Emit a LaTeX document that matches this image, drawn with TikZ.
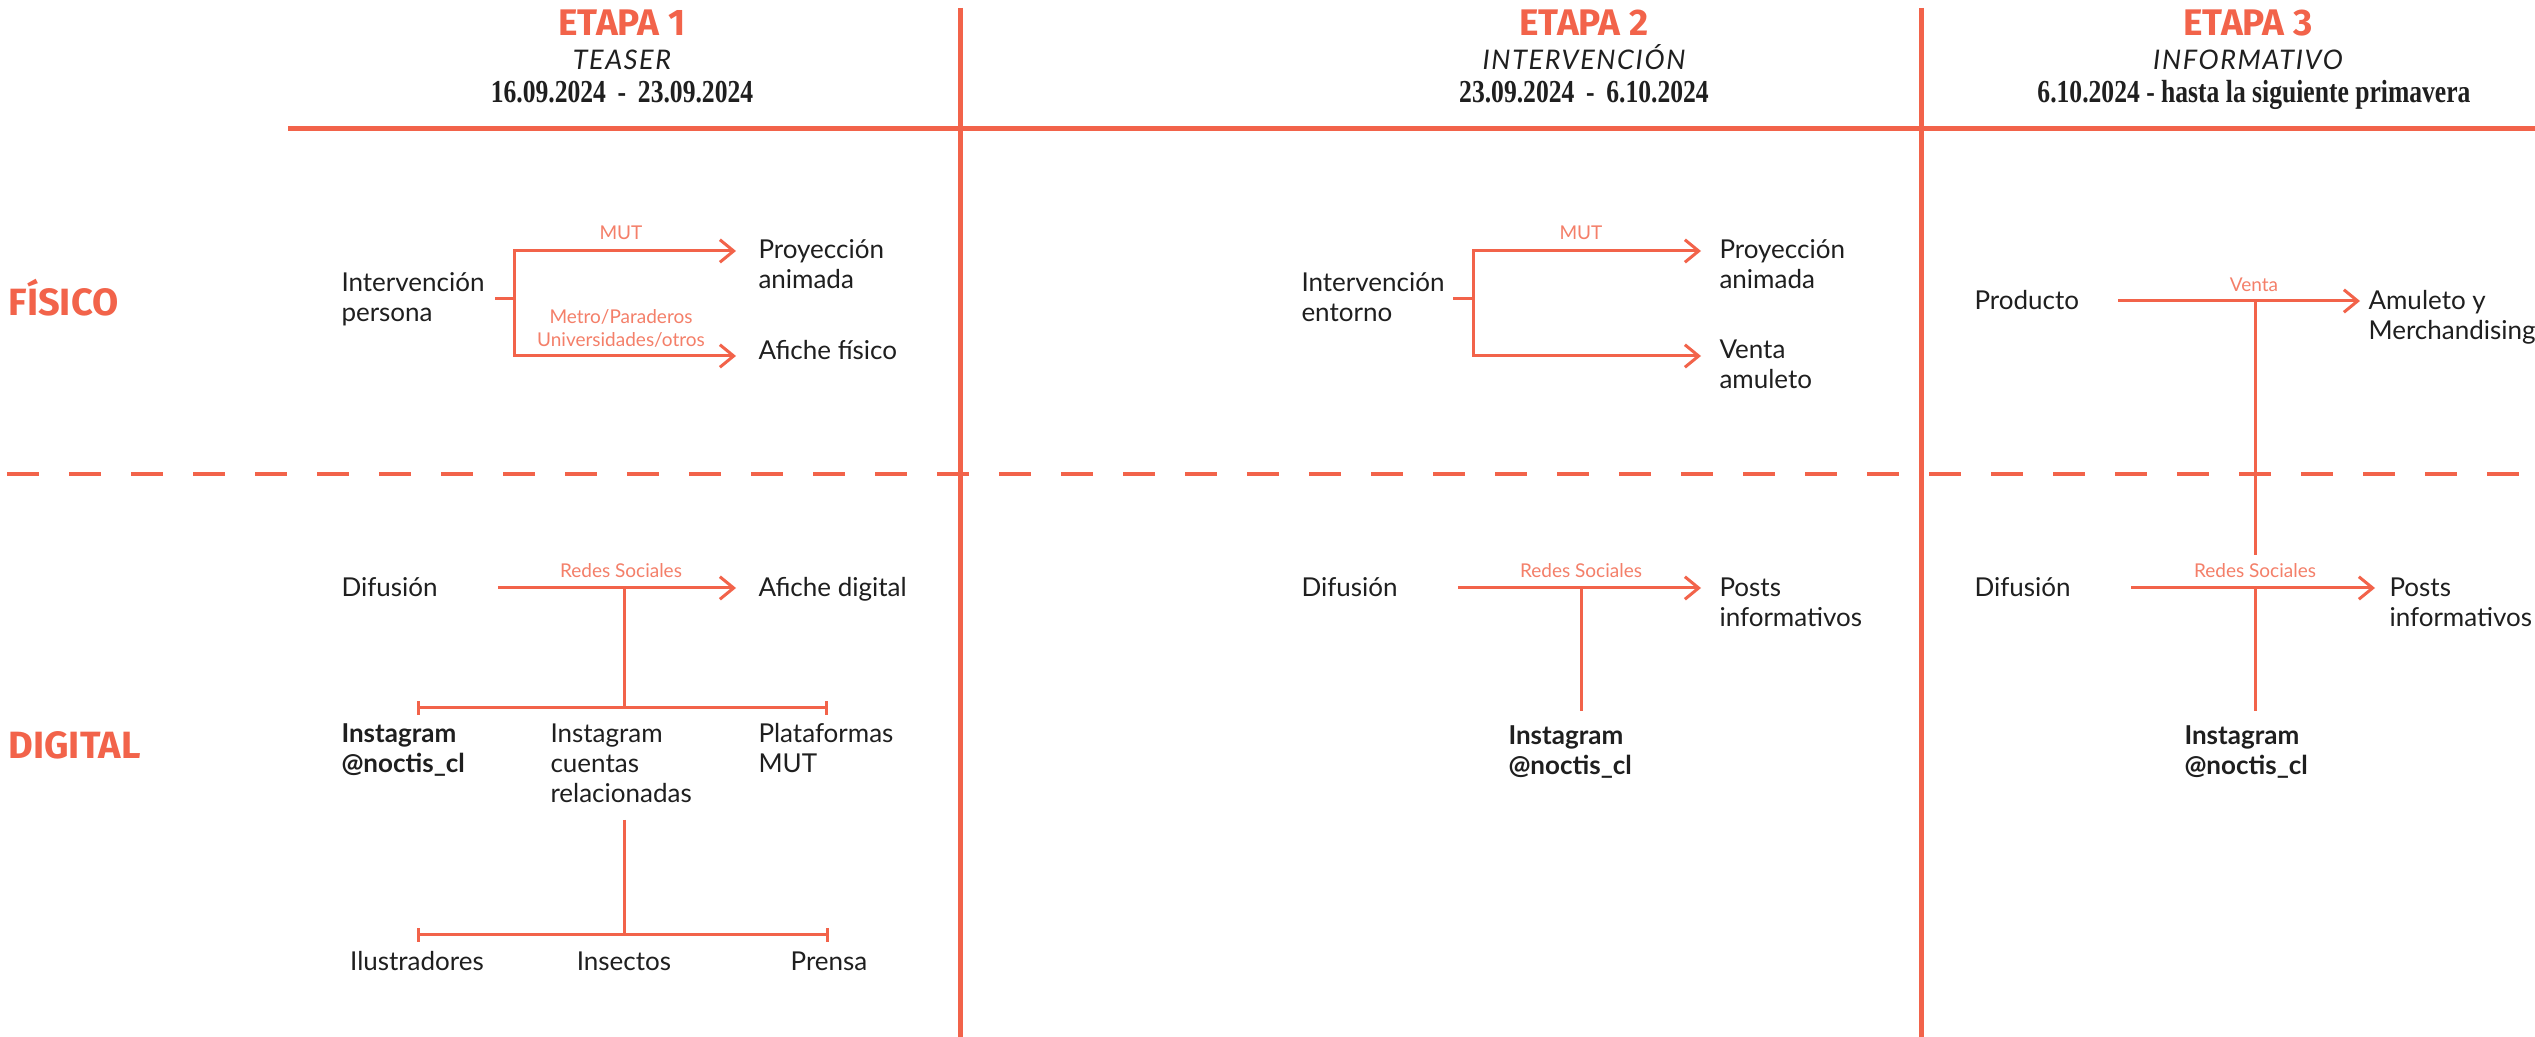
\documentclass[tikz,border=0pt]{standalone}
\usepackage{fontspec}
\setmainfont{Lato}
\newfontfamily\headfont{Fira Sans}
\newfontfamily\subfont[LetterSpace=6]{Lato}
\newfontfamily\datefont[FakeStretch=0.8]{Liberation Serif}
\usetikzlibrary{arrows.meta}
\definecolor{acc}{HTML}{F2634A}
\definecolor{lbl}{HTML}{F47F69}
\definecolor{ink}{HTML}{1F1F1F}
\begin{document}
\begin{tikzpicture}[x=0.4pt,y=-0.4pt,
  gridline/.style={draw=acc,line width=2pt},
  dashline/.style={draw=acc,line width=1.6pt,dash pattern=on 12.8pt off 12pt},
  conn/.style={draw=acc,line width=1.2pt},
  arr/.style={conn,-{Straight Barb[length=5.5pt,width=9pt,line width=1.2pt]}},
  barr/.style={conn,{Bar[width=5.5pt,line width=1.2pt]}-{Bar[width=5.5pt,line width=1.2pt]}},
  txt/.style={font=\fontsize{10.4}{12}\selectfont,text=ink,inner sep=0pt,align=left,anchor=base west},
  btxt/.style={txt,font=\fontsize{10.4}{12}\selectfont\bfseries},
  ctxt/.style={font=\fontsize{10.4}{12}\selectfont,text=ink,inner sep=0pt,anchor=base},
  lab/.style={font=\fontsize{7.6}{9.2}\selectfont,text=lbl,inner sep=0pt,anchor=base,align=center},
  etapa/.style={font=\headfont\bfseries\fontsize{14.8}{16}\selectfont,text=acc,inner sep=0pt,anchor=base},
  subt/.style={font=\subfont\itshape\fontsize{10.8}{12}\selectfont,text=ink,inner sep=0pt,anchor=base},
  datetxt/.style={font=\datefont\bfseries\fontsize{12.8}{14}\selectfont,text=ink,inner sep=0pt,anchor=base},
  sect/.style={font=\headfont\bfseries\fontsize{15.2}{17}\selectfont,text=acc,inner sep=0pt,anchor=base west},
]
\useasboundingbox[fill=white] (0,0) rectangle (2535,1037);

% grid
\coordinate (hl0) at (288,129); \coordinate (hl1) at (2535,129);
\coordinate (v1t) at (960,8); \coordinate (v1b) at (960,1037);
\coordinate (v2t) at (1921,8); \coordinate (v2b) at (1921,1037);
\coordinate (dl0) at (7,474); \coordinate (dl1) at (2535,474);
\draw[gridline] (hl0) -- (hl1);
\draw[gridline] (v1t) -- (v1b);
\draw[gridline] (v2t) -- (v2b);
\draw[dashline] (dl0) -- (dl1);

% headers
\node[etapa] (e1) at (622,36) {ETAPA 1};
\node[subt] (s1) at (622,70) {TEASER};
\node[datetxt] (d1) at (622,103) {16.09.2024\, - \,23.09.2024};
\node[etapa] (e2) at (1584,36) {ETAPA 2};
\node[subt] (s2) at (1584,70) {INTERVENCIÓN};
\node[datetxt] (d2) at (1584,103) {23.09.2024\, - \,6.10.2024};
\node[etapa] (e3) at (2248,36) {ETAPA 3};
\node[subt] (s3) at (2248,70) {INFORMATIVO};
\node[datetxt] (d3) at (2254,103) {6.10.2024 - hasta la siguiente primavera};

% sections
\node[sect] (fis) at (8,316) {FÍSICO};
\node[sect] (dig) at (8,759) {DIGITAL};

% ---------- column 1, physical
\node[txt] (ip) at (341,322) {Intervención\\persona};
\node[txt] (pa1) at (758,289) {Proyección\\animada};
\node[txt] (af1) at (758,360) {Afiche físico};
\coordinate (ips) at (495,299); \coordinate (ipj) at (514,299);
\coordinate (pa1a) at (736,251); \coordinate (af1a) at (736,356);
\draw[conn] (ips) -- (ipj);
\draw[arr] (ipj) |- (pa1a);
\draw[arr] (ipj) |- (af1a);
\node[lab] (mut1) at (621,240) {MUT};
\node[lab] (metro) at (621,347) {Metro/Paraderos\\Universidades/otros};

% ---------- column 1, digital
\node[txt] (df1) at (341,597) {Difusión};
\node[txt] (ad1) at (758,597) {Afiche digital};
\coordinate (df1s) at (498,588); \coordinate (ad1a) at (736,588);
\coordinate (df1j) at (624,588);
\draw[arr] (df1s) -- (ad1a);
\node[lab] (rs1) at (621,578) {Redes Sociales};
\coordinate (b1m) at (624,708); \coordinate (b1l) at (417,708); \coordinate (b1r) at (828,708);
\draw[conn] (df1j) -- (b1m);
\draw[barr] (b1l) -- (b1r);
\node[btxt] (ig1) at (341,773) {Instagram\\@noctis\_cl};
\node[txt] (igc) at (550,803) {Instagram\\cuentas\\relacionadas};
\node[txt] (pm) at (758,773) {Plataformas\\MUT};
\coordinate (igct) at (624,820); \coordinate (b2m) at (624,935);
\coordinate (b2l) at (417,935); \coordinate (b2r) at (829,935);
\draw[conn] (igct) -- (b2m);
\draw[barr] (b2l) -- (b2r);
\node[ctxt] (ilu) at (417,971) {Ilustradores};
\node[ctxt] (ins) at (624,971) {Insectos};
\node[ctxt] (pre) at (829,971) {Prensa};

% ---------- column 2, physical
\node[txt] (ie) at (1301,322) {Intervención\\entorno};
\node[txt] (pa2) at (1719,289) {Proyección\\animada};
\node[txt] (va) at (1719,389) {Venta\\amuleto};
\coordinate (ies) at (1453,299); \coordinate (iej) at (1473,299);
\coordinate (pa2a) at (1701,251); \coordinate (vaa) at (1701,356);
\draw[conn] (ies) -- (iej);
\draw[arr] (iej) |- (pa2a);
\draw[arr] (iej) |- (vaa);
\node[lab] (mut2) at (1581,240) {MUT};

% ---------- column 2, digital
\node[txt] (df2) at (1301,597) {Difusión};
\node[txt] (pi2) at (1719,627) {Posts\\informativos};
\coordinate (df2s) at (1458,588); \coordinate (pi2a) at (1701,588);
\coordinate (df2j) at (1581,588); \coordinate (ig2t) at (1581,711);
\draw[arr] (df2s) -- (pi2a);
\draw[conn] (df2j) -- (ig2t);
\node[lab] (rs2) at (1581,578) {Redes Sociales};
\node[btxt] (ig2) at (1508,775) {Instagram\\@noctis\_cl};

% ---------- column 3, physical
\node[txt] (pr) at (1974,310) {Producto};
\node[txt] (am) at (2368,340) {Amuleto y\\Merchandising};
\coordinate (prs) at (2118,301); \coordinate (ama) at (2360,301);
\coordinate (prj) at (2255,301); \coordinate (prd) at (2255,555);
\draw[arr] (prs) -- (ama);
\draw[conn] (prj) -- (prd);
\node[lab] (ven) at (2254,292) {Venta};

% ---------- column 3, digital
\node[txt] (df3) at (1974,597) {Difusión};
\node[txt] (pi3) at (2389,627) {Posts\\informativos};
\coordinate (df3s) at (2131,588); \coordinate (pi3a) at (2375,588);
\coordinate (df3j) at (2255,588); \coordinate (ig3t) at (2255,711);
\draw[arr] (df3s) -- (pi3a);
\draw[conn] (df3j) -- (ig3t);
\node[lab] (rs3) at (2255,578) {Redes Sociales};
\node[btxt] (ig3) at (2184,775) {Instagram\\@noctis\_cl};
\end{tikzpicture}
\end{document}
